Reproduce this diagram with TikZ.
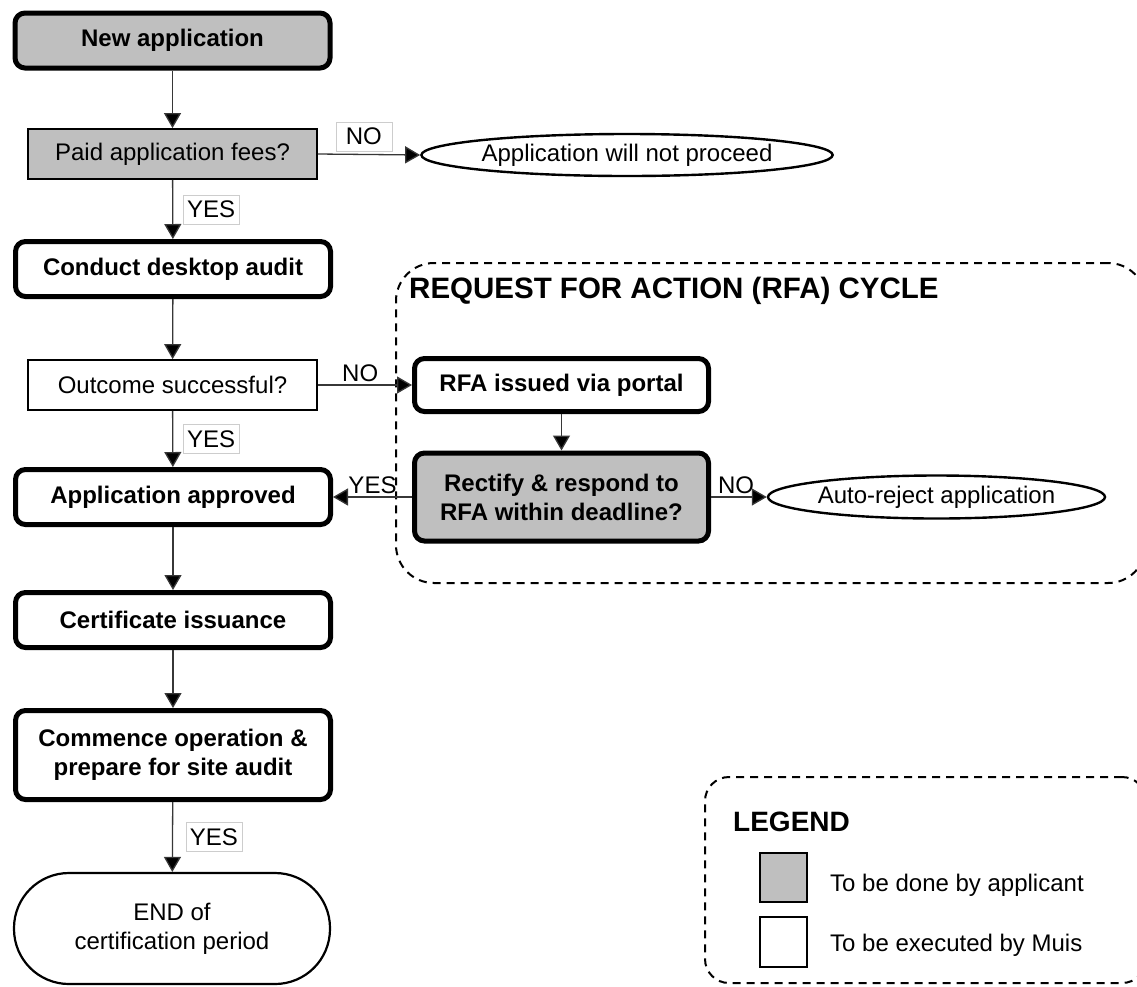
\documentclass[tikz,border=0pt]{standalone}
\usepackage{fontspec}
\setmainfont{Liberation Sans}
\usetikzlibrary{arrows.meta,shapes.geometric}
\definecolor{boxgray}{RGB}{191,191,191}
\definecolor{lblgray}{RGB}{205,205,205}
\definecolor{linegray}{RGB}{55,55,55}
\begin{document}
\begin{tikzpicture}[x=1pt,y=-1pt,
  every node/.style={font=\fontsize{24}{29}\selectfont, text=black},
  thickbox/.style={draw=black, line width=5pt, rounded corners=10pt, inner sep=0pt,
    align=center, minimum width=315pt, minimum height=55pt, font=\fontsize{24}{29}\selectfont\bfseries},
  thinbox/.style={draw=black, line width=1.8pt, inner sep=0pt, align=center,
    minimum width=289pt, minimum height=50pt},
  oval/.style={ellipse, draw=black, line width=2.4pt, inner sep=0pt},
  lblbox/.style={draw=lblgray, line width=0.8pt, fill=white, inner sep=0pt,
    minimum width=56pt, minimum height=29pt},
  lbl/.style={inner sep=1pt},
  frame/.style={draw=black, line width=2pt, dash pattern=on 8pt off 6pt},
  arr/.style={draw=linegray, line width=1.3pt, -{Triangle[length=15pt,width=17pt,fill=black]}},
]
\useasboundingbox (0,0) rectangle (1137,986);
\clip (0,0) rectangle (1137,986);

% frames
\node[frame, rounded corners=38pt, minimum width=750pt, minimum height=320pt, inner sep=0pt] (rfaframe) at (771,423) {};
\node[frame, rounded corners=24pt, minimum width=441pt, minimum height=206pt, inner sep=0pt] (legframe) at (925.5,880) {};
\node[anchor=west, inner sep=0pt, font=\fontsize{29.5}{34}\selectfont\bfseries] (rfatitle) at (409,291) {REQUEST FOR ACTION (RFA) CYCLE};

% main column
\node[thickbox, fill=boxgray] (newapp) at (172.5,40.5) {New application};
\node[thinbox, fill=boxgray] (paid) at (172.5,154) {Paid application fees?};
\node[oval, minimum width=396pt, minimum height=42pt] (notproc) at (627,155) {Application will not proceed};
\node[thickbox, fill=white] (desk) at (173,269) {Conduct desktop audit};
\node[thinbox, fill=white] (outcome) at (172.5,385) {Outcome successful?};
\node[thickbox, fill=white] (approved) at (173,497) {Application approved};
\node[thickbox, fill=white] (cert) at (173,620) {Certificate issuance};
\node[thickbox, fill=white, minimum height=89pt] (commence) at (173,755) {Commence operation \&\\prepare for site audit};
\node[draw=black, line width=2.2pt, rounded corners=55pt, minimum width=316pt, minimum height=111pt,
  inner sep=0pt, align=center] (endnode) at (172,928.5) {END of\\certification period};

% RFA cycle
\node[thickbox, fill=white, minimum width=294pt, minimum height=53pt] (rfa) at (561.5,385) {RFA issued via portal};
\node[thickbox, fill=boxgray, minimum width=294pt, minimum height=88pt] (rectify) at (561.5,497) {Rectify \& respond to\\RFA within deadline?};
\node[oval, minimum width=337pt, minimum height=43pt] (autorej) at (936.5,497) {Auto-reject application};

% legend
\node[anchor=west, inner sep=0pt, font=\fontsize{28}{33}\selectfont\bfseries] (legtitle) at (733,822) {LEGEND};
\node[draw=black, line width=2pt, fill=boxgray, minimum width=47pt, minimum height=49pt, inner sep=0pt] (legapp) at (783.5,877.5) {};
\node[draw=black, line width=2pt, fill=white, minimum width=47pt, minimum height=50pt, inner sep=0pt] (legmuis) at (783.5,942) {};
\node[anchor=west, inner sep=0pt, font=\fontsize{24}{28}\selectfont] (legapptxt) at (830,885) {To be done by applicant};
\node[anchor=west, inner sep=0pt, font=\fontsize{24}{28}\selectfont] (legmuistxt) at (830,945) {To be executed by Muis};

% connectors
\draw[arr] (newapp) -- (paid);
\draw[arr] (paid.east) -- node[lblbox, above=3pt, pos=0.45] {NO} (notproc.west);
\draw[arr] (paid) -- node[lblbox, right=10pt, midway] {YES} (desk);
\draw[arr] (desk) -- (outcome);
\draw[arr] (outcome.east) -- node[lbl, above=2pt, pos=0.45] {NO} (rfa.west);
\draw[arr] (outcome) -- node[lblbox, right=10pt, midway] {YES} (approved);
\draw[arr] (rfa) -- (rectify);
\draw[arr] (rectify.west) -- node[lbl, above=2pt, pos=0.5] {YES} (approved.east);
\draw[arr] (rectify.east) -- node[lbl, above=2pt, pos=0.45] {NO} (autorej.west);
\draw[arr] (approved) -- (cert);
\draw[arr] (cert) -- (commence);
\draw[arr] (commence) -- node[lblbox, right=13pt, midway] {YES} (endnode);
\end{tikzpicture}
\end{document}
